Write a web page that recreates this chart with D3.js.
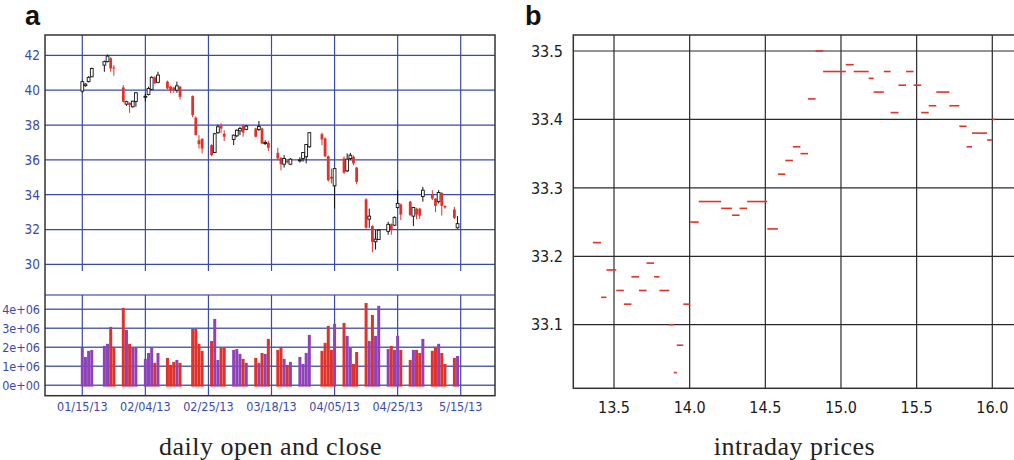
<!DOCTYPE html>
<html>
<head>
<meta charset="utf-8">
<script src="https://cdn.jsdelivr.net/npm/d3@7"></script>
<style>
  body { margin: 0; background: #fff; }
  svg { display: block; }
  .tick-a { font-family: "DejaVu Sans Condensed", "Liberation Sans Narrow", "DejaVu Sans", sans-serif; fill: #3b4aa8; }
  .tick-b { font-family: "DejaVu Sans Condensed", "Liberation Sans Narrow", "DejaVu Sans", sans-serif; fill: #1a1a1a; }
  .panel-letter { font-family: "Liberation Sans", Arial, sans-serif; font-weight: bold; font-size: 27px; fill: #111; }
  .caption { font-family: "Liberation Serif", "DejaVu Serif", serif; font-size: 26px; letter-spacing: 0.5px; fill: #222; }
</style>
</head>
<body>
<div id="wrapper"></div>
<script>
// ---- data: daily OHLC + volume (panel a) ----
const tradeDates = [
  "2013-01-15","2013-01-16","2013-01-17","2013-01-18",
  "2013-01-22","2013-01-23","2013-01-24","2013-01-25",
  "2013-01-28","2013-01-29","2013-01-30","2013-01-31","2013-02-01",
  "2013-02-04","2013-02-05","2013-02-06","2013-02-07","2013-02-08",
  "2013-02-11","2013-02-12","2013-02-13","2013-02-14","2013-02-15",
  "2013-02-19","2013-02-20","2013-02-21","2013-02-22",
  "2013-02-25","2013-02-26","2013-02-27","2013-02-28","2013-03-01",
  "2013-03-04","2013-03-05","2013-03-06","2013-03-07","2013-03-08",
  "2013-03-11","2013-03-12","2013-03-13","2013-03-14","2013-03-15",
  "2013-03-18","2013-03-19","2013-03-20","2013-03-21","2013-03-22",
  "2013-03-25","2013-03-26","2013-03-27","2013-03-28",
  "2013-04-01","2013-04-02","2013-04-03","2013-04-04","2013-04-05",
  "2013-04-08","2013-04-09","2013-04-10","2013-04-11","2013-04-12",
  "2013-04-15","2013-04-16","2013-04-17","2013-04-18","2013-04-19",
  "2013-04-22","2013-04-23","2013-04-24","2013-04-25","2013-04-26",
  "2013-04-29","2013-04-30","2013-05-01","2013-05-02","2013-05-03",
  "2013-05-06","2013-05-07","2013-05-08","2013-05-09","2013-05-10",
  "2013-05-13","2013-05-14"
];
const openPrices = [
  39.95,40.26,40.49,40.77, 41.44,41.64,41.83,41.30, 40.16,39.20,39.28,39.05,39.35,
  39.60,39.75,40.05,40.74,40.45, 40.49,40.20,40.16,40.00,40.20, 39.66,38.42,37.13,37.20,
  36.85,36.42,37.56,37.96,37.50, 37.17,37.38,37.67,37.94,37.75, 37.80,37.75,37.80,36.98,36.98,
  36.40,36.12,35.75,35.95,35.75, 35.96,36.08,36.18,36.75, 37.48,37.23,36.21,35.03,34.51,
  36.08,35.37,36.08,36.18,35.56, 33.73,32.60,32.20,31.30,31.43, 31.90,32.30,32.25,33.27,33.44,
  33.60,32.77,33.20,33.20,33.90, 34.00,33.78,33.60,34.10,33.35, 33.15,32.10
];
const closePrices = [
  40.49,40.35,40.74,41.25, 41.64,41.96,41.25,41.25, 39.34,39.34,39.15,39.37,39.85,
  39.65,40.10,40.74,40.40,40.87, 40.10,40.00,40.00,40.25,39.62, 38.57,37.42,36.90,36.65,
  36.27,37.50,37.90,37.80,37.33, 37.42,37.70,37.80,37.57,37.94, 37.33,37.92,36.94,37.00,36.70,
  36.08,35.75,36.08,35.85,36.04, 36.00,36.42,36.88,37.56, 37.17,36.21,34.83,34.93,35.50,
  35.26,36.04,36.27,35.80,34.74, 32.10,32.77,31.30,31.45,31.96, 32.30,32.02,32.70,33.50,32.86,
  32.82,33.27,32.86,32.80,34.26, 33.78,33.36,34.13,33.36,33.27, 32.67,32.34
];
const highPrices = [
  40.55,40.40,40.80,41.30, 41.70,42.05,41.90,41.44, 40.30,39.40,39.30,39.40,39.90,
  39.80,40.20,40.80,40.80,41.06, 40.55,40.25,40.20,40.49,40.25, 39.70,38.50,37.42,37.25,
  36.90,37.55,38.03,38.10,37.70, 37.45,37.75,37.90,38.05,38.00, 37.85,38.23,37.85,37.13,37.10,
  36.70,36.15,36.27,36.00,36.10, 36.15,36.45,36.90,37.60, 37.56,37.30,36.25,35.50,35.55,
  36.20,36.37,36.40,36.25,35.60, 33.80,33.20,32.25,31.97,32.00, 32.45,32.35,32.75,34.25,33.50,
  33.65,33.30,33.25,33.25,34.45, 34.26,33.80,34.26,34.15,33.40, 33.30,32.77
];
const lowPrices = [
  39.85,40.20,40.45,40.75, 41.06,41.60,41.06,40.83, 39.30,39.10,38.70,39.00,39.05,
  39.35,39.70,40.00,40.35,40.40, 40.05,39.85,39.85,39.85,39.47, 38.45,37.40,36.65,36.37,
  36.20,36.40,37.50,37.55,37.08, 36.85,37.30,37.42,37.33,37.70, 37.30,37.65,36.90,36.85,36.50,
  35.98,35.40,35.56,35.80,35.70, 35.85,35.90,35.80,36.70, 36.85,36.15,34.75,34.65,33.20,
  35.20,35.30,36.00,35.70,34.60, 32.05,32.10,30.70,30.85,31.40, 31.70,31.70,32.20,33.20,32.55,
  32.80,32.20,32.60,32.60,33.60, 33.70,33.00,33.50,32.80,33.20, 32.60,32.05
];
const volumes = [
  1.98,1.49,1.81,1.86, 2.07,2.18,3.07,2.02, 4.07,2.91,2.18,1.98,1.98,
  1.39,1.70,1.98,1.18,1.70, 1.44,1.07,1.23,1.33,1.18, 2.96,2.96,2.18,1.81,
  2.33,3.49,1.33,1.98,1.98, 1.86,1.91,1.65,1.39,1.18, 1.44,1.18,1.70,1.65,2.44,
  1.86,2.02,1.39,1.07,1.23, 1.49,1.12,1.70,2.65, 1.81,2.23,3.12,1.86,3.23,
  3.28,2.60,1.98,1.12,1.75, 4.33,2.33,3.70,2.60,4.18, 1.91,2.07,1.86,2.60,1.86,
  1.33,1.86,1.86,1.70,2.44, 1.81,2.02,2.18,1.70,1.12, 1.44,1.54
].map(v => v * 1e6);

const dateTickValues = ["2013-01-15","2013-02-04","2013-02-24","2013-03-16","2013-04-05","2013-04-25","2013-05-15"];
const dateTickLabels = ["01/15/13","02/04/13","02/25/13","03/18/13","04/05/13","04/25/13","5/15/13"];
const priceTicks = [30, 32, 34, 36, 38, 40, 42];
const volumeTicks = [0, 1e6, 2e6, 3e6, 4e6];
const volumeTickLabels = ["0e+00","1e+06","2e+06","3e+06","4e+06"];

// ---- data: intraday prices (panel b) ----
// segment i runs from intradayTimes[i] to intradayTimes[i+1]
const intradayTimes = [
  13.36,13.415,13.45,13.515,13.565,13.615,13.665,13.715,13.765,13.80,
  13.865,13.895,13.915,13.958,14.003,14.06,14.208,14.28,14.33,14.38,
  14.513,14.583,14.632,14.682,14.732,14.782,14.832,14.882,15.032,15.084,
  15.183,15.216,15.283,15.328,15.38,15.43,15.48,15.53,15.58,15.63,
  15.716,15.782,15.83,15.866,15.966,15.998,16.017
];
const intradayPrices = [
  33.22,33.14,33.18,33.15,33.13,33.17,33.15,33.19,33.17,33.15,
  33.10,33.03,33.07,33.13,33.25,33.28,33.27,33.26,33.27,33.28,
  33.24,33.32,33.34,33.36,33.35,33.43,33.50,33.47,33.48,33.47,
  33.46,33.44,33.47,33.41,33.45,33.47,33.45,33.41,33.42,33.44,
  33.42,33.39,33.36,33.38,33.37,33.40
];
const intradayXTicks = [13.5, 14.0, 14.5, 15.0, 15.5, 16.0];
const intradayYTicks = [33.1, 33.2, 33.3, 33.4, 33.5];

function drawCharts() {
  const parseDate = d3.utcParse("%Y-%m-%d");
  const red = "#e0322a";
  const purple = "#8e44b8";
  const gridBlue = "#3a4aa8";

  const days = tradeDates.map((d, i) => ({
    date: parseDate(d),
    open: openPrices[i],
    close: closePrices[i],
    high: highPrices[i],
    low: lowPrices[i],
    volume: volumes[i],
  }));
  const isUp = d => d.close >= d.open;

  const svg = d3.select("#wrapper").append("svg")
    .attr("width", 1014)
    .attr("height", 460);

  // ===== panel a dimensions =====
  const a = { left: 45, right: 495, top: 35, candleBottom: 271, volTop: 295, volBottom: 395.7 };

  const xScale = d3.scaleUtc()
    .domain([parseDate("2013-01-15"), parseDate("2013-05-15")])
    .range([82.3, 460.7]);
  const yPrice = d3.scaleLinear().domain([29.62, 43.17]).range([a.candleBottom, a.top]);
  const yVol = d3.scaleLinear().domain([-0.55e6, 4.75e6]).range([a.volBottom, a.volTop]);

  const ga = svg.append("g");

  // grid: candle panel
  ga.append("g").selectAll("line")
    .data(priceTicks).join("line")
    .attr("x1", a.left).attr("x2", a.right)
    .attr("y1", d => yPrice(d)).attr("y2", d => yPrice(d))
    .attr("stroke", gridBlue).attr("stroke-width", 1.2);
  ga.append("g").selectAll("line")
    .data(dateTickValues).join("line")
    .attr("x1", d => xScale(parseDate(d))).attr("x2", d => xScale(parseDate(d)))
    .attr("y1", a.top).attr("y2", a.candleBottom)
    .attr("stroke", gridBlue).attr("stroke-width", 1.2);

  // grid: volume panel
  ga.append("g").selectAll("line")
    .data(volumeTicks).join("line")
    .attr("x1", a.left).attr("x2", a.right)
    .attr("y1", d => yVol(d)).attr("y2", d => yVol(d))
    .attr("stroke", gridBlue).attr("stroke-opacity", 0.85).attr("stroke-width", 1.4);
  ga.append("line")
    .attr("x1", a.left).attr("x2", a.right)
    .attr("y1", a.volTop).attr("y2", a.volTop)
    .attr("stroke", "#8c96cc").attr("stroke-width", 1.8);
  ga.append("g").selectAll("line")
    .data(dateTickValues).join("line")
    .attr("x1", d => xScale(parseDate(d))).attr("x2", d => xScale(parseDate(d)))
    .attr("y1", a.volTop).attr("y2", a.volBottom)
    .attr("stroke", gridBlue).attr("stroke-width", 1.2);

  // candles
  const candles = ga.append("g").selectAll("g")
    .data(days).join("g");
  candles.append("line")
    .attr("x1", d => xScale(d.date)).attr("x2", d => xScale(d.date))
    .attr("y1", d => yPrice(d.high)).attr("y2", d => yPrice(d.low))
    .attr("stroke", d => isUp(d) ? "#111" : red)
    .attr("stroke-width", 1);
  candles.append("rect")
    .attr("x", d => xScale(d.date) - 1.4)
    .attr("width", 2.8)
    .attr("y", d => yPrice(Math.max(d.open, d.close)))
    .attr("height", d => Math.max(1, yPrice(Math.min(d.open, d.close)) - yPrice(Math.max(d.open, d.close))))
    .attr("fill", d => isUp(d) ? "#fff" : red)
    .attr("stroke", d => isUp(d) ? "#111" : "none")
    .attr("stroke-width", 0.9);

  // volume bars
  ga.append("g").selectAll("rect")
    .data(days).join("rect")
    .attr("x", d => xScale(d.date) - 1.5)
    .attr("width", 3)
    .attr("y", d => yVol(d.volume))
    .attr("height", d => yVol(0) - yVol(d.volume) + 1.4)
    .attr("fill", d => isUp(d) ? purple : red);

  // frame
  ga.append("rect")
    .attr("x", a.left).attr("y", a.top)
    .attr("width", a.right - a.left).attr("height", a.volBottom - a.top)
    .attr("fill", "none").attr("stroke", "#333").attr("stroke-width", 1.5);

  // tick labels
  ga.append("g").selectAll("text")
    .data(priceTicks).join("text")
    .attr("class", "tick-a")
    .attr("x", 40).attr("y", d => yPrice(d))
    .attr("dy", "0.36em")
    .attr("text-anchor", "end")
    .style("font-size", "13.5px")
    .text(d => d);
  ga.append("g").selectAll("text")
    .data(volumeTicks).join("text")
    .attr("class", "tick-a")
    .attr("x", 40).attr("y", d => yVol(d))
    .attr("dy", "0.36em")
    .attr("text-anchor", "end")
    .style("font-size", "12.5px")
    .text((d, i) => volumeTickLabels[i]);
  ga.append("g").selectAll("text")
    .data(dateTickValues).join("text")
    .attr("class", "tick-a")
    .attr("x", d => xScale(parseDate(d))).attr("y", 410.7)
    .attr("text-anchor", "middle")
    .style("font-size", "12.5px")
    .text((d, i) => dateTickLabels[i]);

  ga.append("text").attr("class", "panel-letter").attr("x", 25).attr("y", 25).text("a");
  ga.append("text").attr("class", "caption")
    .attr("x", 270.5).attr("y", 455).attr("text-anchor", "middle")
    .text("daily open and close");

  // ===== panel b =====
  const b = { left: 573.3, right: 1020, top: 35, bottom: 388.3 };
  const xTime = d3.scaleLinear().domain([13.5, 16.0]).range([614, 992.3]);
  const yIntra = d3.scaleLinear().domain([33.1, 33.5]).range([324.7, 51]);

  const gb = svg.append("g");
  gb.append("g").selectAll("line")
    .data(intradayYTicks).join("line")
    .attr("x1", b.left).attr("x2", b.right)
    .attr("y1", d => yIntra(d)).attr("y2", d => yIntra(d))
    .attr("stroke", "#2a2a2a").attr("stroke-width", 1.2);
  gb.append("g").selectAll("line")
    .data(intradayXTicks).join("line")
    .attr("x1", d => xTime(d)).attr("x2", d => xTime(d))
    .attr("y1", b.top).attr("y2", b.bottom)
    .attr("stroke", "#2a2a2a").attr("stroke-width", 1.2);

  const segments = intradayPrices.map((p, i) => ({ t0: intradayTimes[i], t1: intradayTimes[i + 1], price: p }));
  gb.append("g").selectAll("line")
    .data(segments).join("line")
    .attr("x1", d => xTime(d.t0)).attr("x2", d => xTime(d.t1))
    .attr("y1", d => yIntra(d.price)).attr("y2", d => yIntra(d.price))
    .attr("stroke", red).attr("stroke-width", 1.6);

  gb.append("rect")
    .attr("x", b.left).attr("y", b.top)
    .attr("width", b.right - b.left).attr("height", b.bottom - b.top)
    .attr("fill", "none").attr("stroke", "#333").attr("stroke-width", 1.5);

  gb.append("g").selectAll("text")
    .data(intradayYTicks).join("text")
    .attr("class", "tick-b")
    .attr("x", 563).attr("y", d => yIntra(d))
    .attr("dy", "0.36em")
    .attr("text-anchor", "end")
    .style("font-size", "16px")
    .text(d => d3.format(".1f")(d));
  gb.append("g").selectAll("text")
    .data(intradayXTicks).join("text")
    .attr("class", "tick-b")
    .attr("x", d => xTime(d)).attr("y", 413.3)
    .attr("text-anchor", "middle")
    .style("font-size", "16px")
    .text(d => d3.format(".1f")(d));

  gb.append("text").attr("class", "panel-letter").attr("x", 525).attr("y", 25).text("b");
  gb.append("text").attr("class", "caption")
    .attr("x", 794.5).attr("y", 455).attr("text-anchor", "middle")
    .text("intraday prices");
}
drawCharts();
</script>
</body>
</html>
